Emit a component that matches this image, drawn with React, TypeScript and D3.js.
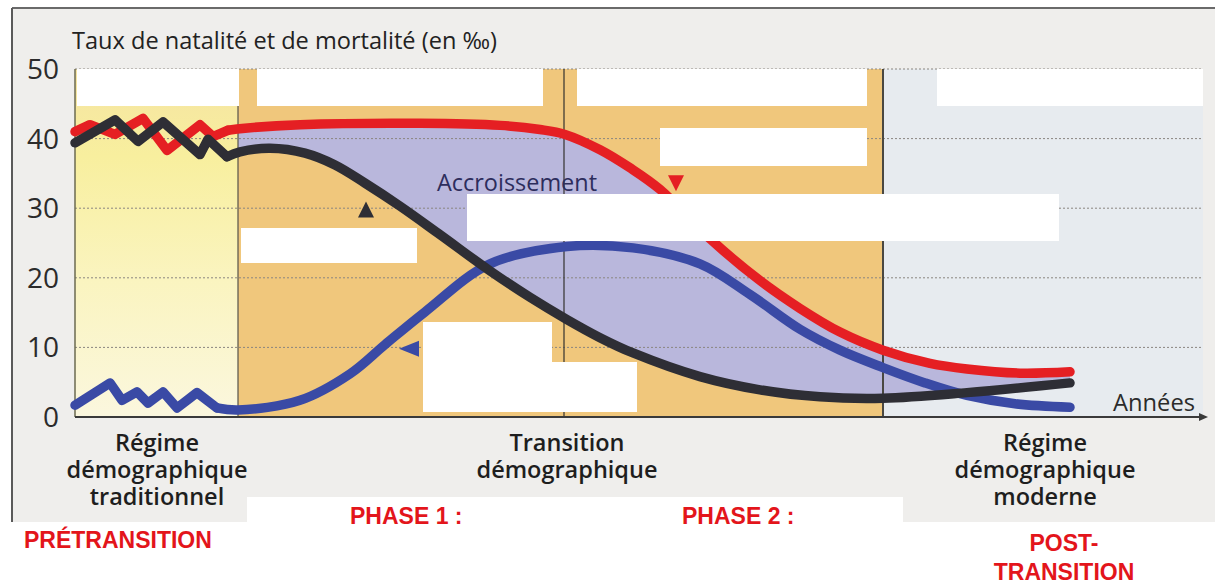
import React from "react";
import * as d3 from "d3";

type P = [number, number];

// x in abstract time units (0 = start of pretransition), y in ‰
const yTicks = [0, 10, 20, 30, 40, 50];
const phaseBounds = [0, 16.3, 48.9, 80.8, 112.8];
const axisEnd = 113.3;

// Taux de natalité (red)
const birthZigzag: P[] = [
  [0, 41.0], [1.5, 42.0], [4, 40.6], [6.8, 42.9], [9.2, 38.3], [12.5, 42.0], [13.8, 40.3], [15.3, 41.2],
];
const birthSmooth: P[] = [
  [15.3, 41.2], [17, 41.5], [22.5, 42.0], [34.5, 42.2], [42.5, 41.9], [46.5, 41.3], [49, 40.6],
  [52.5, 38.4], [55.5, 35.8], [58.5, 32.7], [63.5, 25.6], [68.5, 19.6], [72.5, 15.6], [76.5, 12.2],
  [80.8, 9.6], [85.5, 7.7], [89.2, 6.9], [94.5, 6.3], [99.5, 6.5],
];

// Taux de mortalité (black)
const deathZigzag: P[] = [
  [0, 39.4], [4, 42.7], [6.3, 39.6], [8.8, 42.4], [12.5, 37.7], [13.3, 39.9], [15.2, 37.4],
];
const deathSmooth: P[] = [
  [15.2, 37.4], [16.5, 38.1], [19.5, 38.6], [23, 37.9], [26, 36.2], [29, 33.6], [32.5, 30.3],
  [36.5, 26.2], [41.5, 21.0], [45.5, 17.2], [49.2, 14.0], [52.5, 11.4], [55.8, 9.2],
  [62.5, 5.8], [68.5, 3.9], [74.5, 2.9], [80.8, 2.7], [89.2, 3.5], [99.5, 4.9],
];

// Accroissement naturel (blue)
const growthZigzag: P[] = [
  [0, 1.7], [3.5, 4.9], [4.7, 2.4], [6.2, 3.6], [7.3, 2.0], [8.8, 3.6], [10.2, 1.3], [12.2, 3.5], [14.2, 1.3],
];
const growthSmooth: P[] = [
  [14.2, 1.3], [16.3, 1.0], [22.5, 2.4], [27.5, 6.2], [31, 10.4], [35, 15.1], [41.5, 22.0],
  [49.2, 24.5], [55.8, 24.3], [62.5, 22.0], [67.5, 17.6], [72.5, 12.6], [76.5, 9.6], [80.8, 7.1],
  [85, 4.9], [89.2, 3.1], [94, 1.9], [99.5, 1.4],
];

// annotation markers (t, value, direction)
const markers: { t: number; v: number; dir: string; color: string }[] = [
  { t: 29.1, v: 29.8, dir: "up", color: "#2e2e35" },
  { t: 33.4, v: 9.8, dir: "left", color: "#3a4aa5" },
  { t: 60.1, v: 33.6, dir: "down", color: "#e51f23" },
];

// white cover boxes [x0, y0, x1, y1] in pixels
const coverBoxes: number[][] = [
  [77, 69, 239, 106], [257, 69, 543, 106], [577, 69, 867, 106], [937, 69, 1203, 106],
  [660, 128, 867, 166], [467, 194, 1059, 241], [241, 228, 417, 263],
  [423, 322, 552, 412], [423, 362, 637, 412], [247, 497, 903, 527],
];

const bottomLabels: { cx: number; lines: string[] }[] = [
  { cx: 157, lines: ["Régime", "démographique", "traditionnel"] },
  { cx: 567, lines: ["Transition", "démographique"] },
  { cx: 1045, lines: ["Régime", "démographique", "moderne"] },
];

const RED = "#e51f23";
const BLACK = "#2e2e35";
const BLUE = "#3a4aa5";

export default function App() {
  const x = d3.scaleLinear().domain([0, axisEnd]).range([75, 1208]);
  const y = d3.scaleLinear().domain([0, 50]).range([417, 69]);

  const lin = d3.line<P>().x((d) => x(d[0])).y((d) => y(d[1])).curve(d3.curveLinear);
  const smooth = d3
    .line<P>()
    .x((d) => x(d[0]))
    .y((d) => y(d[1]))
    .curve(d3.curveCatmullRom.alpha(0.5));

  const fillPath =
    (smooth(birthSmooth) as string) +
    "L" +
    (smooth([...deathSmooth].reverse()) as string).slice(1) +
    "Z";

  const top = y(50);
  const bot = y(0);

  const tri = (m: { t: number; v: number; dir: string }) => {
    const cx = x(m.t);
    const cy = y(m.v);
    const s = 8;
    if (m.dir === "up") return `M${cx},${cy - s}L${cx + s},${cy + s}L${cx - s},${cy + s}Z`;
    if (m.dir === "down") return `M${cx - s},${cy - s}L${cx + s},${cy - s}L${cx},${cy + s}Z`;
    return `M${cx - s - 2},${cy}L${cx + s + 2},${cy - s}L${cx + s + 2},${cy + s}Z`;
  };

  const lineStyle = { fill: "none", strokeWidth: 9.5, strokeLinecap: "round" as const, strokeLinejoin: "round" as const };

  return (
    <svg
      width={1215}
      height={585}
      style={{ position: "fixed", left: 0, top: 0, display: "block", background: "#ffffff" }}
      fontFamily="'Open Sans', 'Noto Sans', sans-serif"
    >
      <defs>
        <linearGradient id="preGrad" x1="0" y1="0" x2="0" y2="1">
          <stop offset="0%" stopColor="#f5e3a2" />
          <stop offset="25%" stopColor="#f8ef9e" />
          <stop offset="60%" stopColor="#faf4bf" />
          <stop offset="100%" stopColor="#fbf7de" />
        </linearGradient>
        <clipPath id="growClip">
          <rect x={x(phaseBounds[1])} y={top} width={x(phaseBounds[4]) - x(phaseBounds[1])} height={bot - top} />
        </clipPath>
      </defs>

      {/* frame */}
      <rect x={12} y={8} width={1203} height={514} fill="#efeeec" />
      <line x1={12} x2={1215} y1={8} y2={8} stroke="#6a6a6a" strokeWidth={2} />
      <line x1={12} x2={12} y1={8} y2={522} stroke="#5a5a5a" strokeWidth={2} />

      {/* phase backgrounds */}
      <rect x={x(phaseBounds[0])} y={top} width={x(phaseBounds[1]) - x(phaseBounds[0])} height={bot - top} fill="url(#preGrad)" />
      <rect x={x(phaseBounds[1])} y={top} width={x(phaseBounds[3]) - x(phaseBounds[1])} height={bot - top} fill="#f0c77c" />
      <rect x={x(phaseBounds[3])} y={top} width={x(phaseBounds[4]) - x(phaseBounds[3])} height={bot - top} fill="#e7ebef" />

      {/* accroissement area */}
      <path d={fillPath} fill="#b9b7dc" clipPath="url(#growClip)" />

      {/* gridlines */}
      {yTicks.filter((t) => t > 0).map((t) => (
        <line key={t} x1={x(0)} x2={x(phaseBounds[4])} y1={y(t)} y2={y(t)} stroke="#8a8680" strokeWidth={1} strokeDasharray="2,2" />
      ))}

      {/* vertical separators */}
      <line x1={x(phaseBounds[0])} x2={x(phaseBounds[0])} y1={top} y2={bot} stroke="#6b6a50" strokeWidth={1.5} />
      <line x1={x(phaseBounds[1])} x2={x(phaseBounds[1])} y1={top} y2={bot} stroke="#55524a" strokeWidth={1.2} />
      <line x1={x(phaseBounds[2])} x2={x(phaseBounds[2])} y1={top} y2={bot} stroke="#33312e" strokeWidth={1.2} />
      <line x1={x(phaseBounds[3])} x2={x(phaseBounds[3])} y1={top} y2={bot} stroke="#4a4842" strokeWidth={2} />

      {/* x axis with arrow */}
      <line x1={x(0)} x2={x(axisEnd) - 6} y1={bot} y2={bot} stroke="#3a3a3a" strokeWidth={2} />
      <path d={`M${x(axisEnd)},${bot}L${x(axisEnd) - 9},${bot - 4}L${x(axisEnd) - 9},${bot + 4}Z`} fill="#3a3a3a" />

      {/* curves */}
      <path d={lin(growthZigzag) as string} stroke={BLUE} {...lineStyle} />
      <path d={smooth(growthSmooth) as string} stroke={BLUE} {...lineStyle} />
      <path d={lin(birthZigzag) as string} stroke={RED} {...lineStyle} />
      <path d={smooth(birthSmooth) as string} stroke={RED} {...lineStyle} />
      <path d={lin(deathZigzag) as string} stroke={BLACK} {...lineStyle} />
      <path d={smooth(deathSmooth) as string} stroke={BLACK} {...lineStyle} />

      {markers.map((m, i) => (
        <path key={i} d={tri(m)} fill={m.color} />
      ))}

      {/* white cover boxes */}
      {coverBoxes.map((b, i) => (
        <rect key={i} x={b[0]} y={b[1]} width={b[2] - b[0]} height={b[3] - b[1]} fill="#ffffff" />
      ))}

      {/* y tick labels */}
      {yTicks.map((t) => (
        <text key={t} x={59} y={y(t)} dy="0.36em" textAnchor="end" fontSize={28} fill="#2b2b2b">
          {t}
        </text>
      ))}

      {/* title */}
      <text x={72} y={49} fontSize={24} fill="#222" textLength={425} lengthAdjust="spacingAndGlyphs">
        Taux de natalité et de mortalité (en ‰)
      </text>

      <text x={437} y={191} fontSize={24} fontWeight={500} fill="#2d2d5c" textLength={160} lengthAdjust="spacingAndGlyphs">
        Accroissement
      </text>

      <text x={1113} y={411} fontSize={24} fill="#2b2b2b" textLength={82} lengthAdjust="spacingAndGlyphs">
        Années
      </text>

      {bottomLabels.map((b, i) =>
        b.lines.map((l, j) => (
          <text
            key={`${i}-${j}`}
            x={b.cx}
            y={451 + j * 27}
            textAnchor="middle"
            fontSize={23.5}
            fontWeight={600}
            fill="#1e1e1e"
          >
            {l}
          </text>
        ))
      )}

      <g fontFamily="'Liberation Sans', Arial, sans-serif" fontWeight={700} fontSize={23} fill="#e3151b">
        <text x={24} y={548}>PRÉTRANSITION</text>
        <text x={350} y={524}>PHASE 1 :</text>
        <text x={682} y={524}>PHASE 2 :</text>
        <text x={1064} y={551} textAnchor="middle">POST-</text>
        <text x={1064} y={580} textAnchor="middle">TRANSITION</text>
      </g>
    </svg>
  );
}
